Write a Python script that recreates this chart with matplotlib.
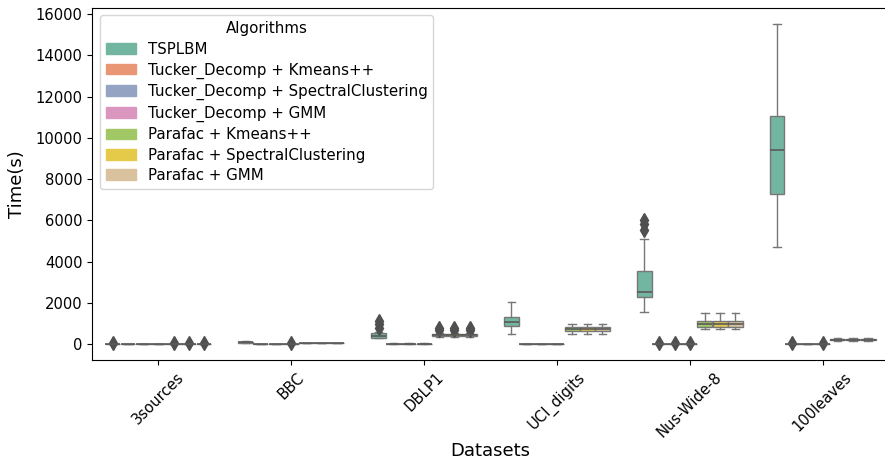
import colorsys
import matplotlib
matplotlib.use("Agg")
import matplotlib.pyplot as plt
from matplotlib.patches import Patch
import seaborn as sns

datasets = ["3sources", "BBC", "DBLP1", "UCI_digits", "Nus-Wide-8", "100leaves"]
algorithms = ["TSPLBM", "Tucker_Decomp + Kmeans++", "Tucker_Decomp + SpectralClustering",
              "Tucker_Decomp + GMM", "Parafac + Kmeans++", "Parafac + SpectralClustering",
              "Parafac + GMM"]

# box statistics [algorithm][dataset]
q1 = [
    [5, 50, 310, 870, 2280, 7290],
    [3, 8, 10, 5, 5, 5],
    [3, 8, 10, 5, 5, 5],
    [3, 8, 10, 5, 5, 5],
    [5, 40, 380, 615, 825, 170],
    [5, 40, 380, 615, 825, 170],
    [5, 40, 380, 615, 825, 170],
]
med = [
    [8, 75, 400, 1080, 2540, 9420],
    [5, 12, 15, 8, 8, 8],
    [5, 12, 15, 8, 8, 8],
    [5, 12, 15, 8, 8, 8],
    [8, 50, 420, 710, 970, 200],
    [8, 50, 420, 710, 970, 200],
    [8, 50, 420, 710, 970, 200],
]
q3 = [
    [12, 100, 520, 1320, 3540, 11070],
    [8, 16, 20, 12, 12, 12],
    [8, 16, 20, 12, 12, 12],
    [8, 16, 20, 12, 12, 12],
    [12, 60, 470, 810, 1115, 240],
    [12, 60, 470, 810, 1115, 240],
    [12, 60, 470, 810, 1115, 240],
]
whislo = [
    [2, 30, 280, 480, 1550, 4700],
    [1, 5, 5, 2, 2, 2],
    [1, 5, 5, 2, 2, 2],
    [1, 5, 5, 2, 2, 2],
    [2, 30, 340, 480, 730, 140],
    [2, 30, 340, 480, 730, 140],
    [2, 30, 340, 480, 730, 140],
]
whishi = [
    [18, 130, 560, 2030, 5100, 15500],
    [12, 20, 25, 18, 18, 18],
    [12, 20, 25, 18, 18, 18],
    [12, 20, 25, 18, 18, 18],
    [18, 70, 520, 970, 1500, 280],
    [18, 70, 520, 970, 1500, 280],
    [18, 70, 520, 970, 1500, 280],
]
fliers = [
    [[40], [], [780, 950, 1100], [], [5550, 5800, 6000], []],
    [[], [], [], [], [45], [45]],
    [[], [], [], [], [45], []],
    [[], [45], [], [], [45], [45]],
    [[40], [], [690, 780], [], [], []],
    [[40], [], [690, 780], [], [], []],
    [[40], [], [690, 780], [], [], []],
]


def desat(c, prop=0.75):
    h, l, s = colorsys.rgb_to_hls(*c)
    return colorsys.hls_to_rgb(h, l, s * prop)


colors = [desat(c) for c in sns.color_palette("Set2", len(algorithms))]
line_gray = "#777777"
flier_gray = "#505050"

fig = plt.figure(figsize=(8.85, 4.61), dpi=100)
ax = fig.add_axes([92 / 885, 101 / 461, 797 / 885, 352 / 461])

n = len(algorithms)
bw = 0.8 / n
for h in range(n):
    stats = []
    pos = []
    for i in range(len(datasets)):
        stats.append(dict(med=med[h][i], q1=q1[h][i], q3=q3[h][i],
                          whislo=whislo[h][i], whishi=whishi[h][i],
                          fliers=fliers[h][i]))
        pos.append(i + (h - (n - 1) / 2) * bw)
    ax.bxp(stats, positions=pos, widths=bw * 0.98, patch_artist=True,
           manage_ticks=False,
           boxprops=dict(facecolor=colors[h], edgecolor=line_gray, linewidth=1.0),
           medianprops=dict(color="#5a5a5a", linewidth=1.2),
           whiskerprops=dict(color=line_gray, linewidth=1.0),
           capprops=dict(color=line_gray, linewidth=1.0),
           flierprops=dict(marker="d", markersize=7, markerfacecolor=flier_gray,
                           markeredgecolor=flier_gray))

ax.set_xlim(-0.5, len(datasets) - 0.5)
ax.set_ylim(-776, 16296)
ax.set_xticks(range(len(datasets)))
ax.set_xticklabels(datasets, rotation=45, fontsize=10.6)
ax.set_yticks(range(0, 16001, 2000))
ax.tick_params(axis="y", labelsize=10.6)
ax.set_xlabel("Datasets", fontsize=13)
ax.set_ylabel("Time(s)", fontsize=13)
ax.xaxis.set_label_coords(0.5, -0.232)
ax.yaxis.set_label_coords(-0.083, 0.5)

handles = [Patch(facecolor=colors[h], edgecolor=colors[h], label=algorithms[h])
           for h in range(n)]
ax.legend(handles=handles, title="Algorithms", loc="upper left", fontsize=10.8,
          title_fontsize=10.8, labelspacing=0.36)

fig.savefig("out.png", dpi=100)
